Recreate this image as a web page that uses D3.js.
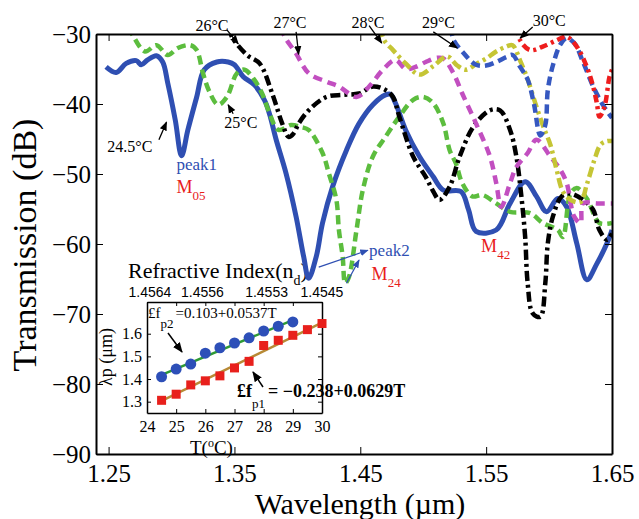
<!DOCTYPE html>
<html>
<head>
<meta charset="utf-8">
<script src="https://cdn.jsdelivr.net/npm/d3@7"></script>
<style>
body { margin: 0; background: #fff; }
svg { display: block; }
text { font-family: "Liberation Serif", "Times New Roman", serif; }
</style>
</head>
<body>
<svg id="chart" width="639" height="519"></svg>
<script>
// transmission spectra, [wavelength (um), dB]
const t245 = [[1.248,-34.7],[1.256,-35.5],[1.264,-34.2],[1.272,-33.8],[1.276,-34.4],[1.281,-33.7],[1.288,-33.1],[1.293,-34.0],[1.297,-37.0],[1.303,-42.3],[1.308,-47.4],[1.313,-43.7],[1.320,-39.0],[1.326,-35.1],[1.336,-34.0],[1.345,-34.0],[1.350,-34.4],[1.357,-36.1],[1.366,-37.3],[1.374,-39.5],[1.378,-41.5],[1.383,-45.0],[1.391,-49.9],[1.399,-56.1],[1.405,-61.8],[1.409,-64.9],[1.415,-61.8],[1.420,-57.0],[1.428,-51.8],[1.439,-46.6],[1.449,-42.8],[1.460,-40.1],[1.470,-38.7],[1.474,-38.6],[1.478,-39.9],[1.486,-43.7],[1.497,-47.5],[1.508,-50.4],[1.516,-52.3],[1.530,-52.5],[1.536,-55.1],[1.542,-58.2],[1.558,-58.0],[1.569,-54.2],[1.581,-51.1],[1.590,-53.2],[1.598,-55.4],[1.607,-53.5],[1.614,-54.7],[1.622,-59.9],[1.630,-65.1],[1.638,-62.8],[1.646,-59.9],[1.650,-58.0]];
const t25 = [[1.266,-29.0],[1.269,-30.1],[1.279,-32.5],[1.288,-31.6],[1.297,-33.0],[1.305,-32.0],[1.315,-31.6],[1.320,-32.3],[1.325,-35.6],[1.330,-38.2],[1.337,-40.1],[1.344,-39.0],[1.352,-35.6],[1.358,-35.1],[1.366,-36.6],[1.372,-38.5],[1.377,-40.9],[1.385,-43.7],[1.395,-43.0],[1.403,-43.3],[1.409,-43.7],[1.420,-47.0],[1.425,-49.9],[1.431,-53.7],[1.433,-58.0],[1.436,-61.8],[1.438,-65.6],[1.441,-64.7],[1.447,-58.0],[1.452,-52.3],[1.460,-47.5],[1.470,-44.7],[1.481,-41.8],[1.492,-39.4],[1.500,-39.0],[1.508,-39.9],[1.516,-42.8],[1.521,-46.6],[1.526,-48.5],[1.531,-51.3],[1.539,-53.2],[1.547,-53.0],[1.558,-54.2],[1.569,-55.4],[1.585,-55.6],[1.595,-57.0],[1.607,-58.0],[1.611,-59.0],[1.617,-52.8],[1.622,-52.0],[1.630,-53.5],[1.640,-57.0],[1.650,-57.0]];
const t26 = [[1.346,-29.0],[1.348,-30.4],[1.360,-33.0],[1.370,-34.2],[1.380,-38.5],[1.388,-42.8],[1.393,-44.7],[1.397,-44.2],[1.401,-42.8],[1.409,-40.9],[1.423,-39.0],[1.436,-38.7],[1.449,-38.5],[1.460,-37.5],[1.470,-38.0],[1.476,-39.0],[1.481,-41.8],[1.492,-47.5],[1.502,-50.4],[1.508,-52.5],[1.513,-53.7],[1.521,-51.8],[1.529,-47.5],[1.540,-43.2],[1.553,-40.9],[1.561,-40.9],[1.569,-43.7],[1.574,-47.5],[1.578,-53.2],[1.581,-59.0],[1.583,-65.6],[1.587,-69.9],[1.593,-70.4],[1.597,-65.6],[1.599,-59.9],[1.603,-56.1],[1.610,-53.2],[1.617,-52.8],[1.627,-53.7],[1.635,-55.1],[1.640,-58.0],[1.646,-59.4],[1.650,-58.5]];
const t27 = [[1.387,-29.0],[1.390,-30.4],[1.399,-32.8],[1.409,-35.6],[1.423,-36.8],[1.433,-37.5],[1.447,-39.0],[1.457,-37.5],[1.468,-35.1],[1.478,-33.7],[1.486,-35.0],[1.494,-34.7],[1.502,-34.0],[1.511,-33.4],[1.516,-33.5],[1.524,-35.6],[1.531,-38.5],[1.542,-42.8],[1.553,-47.5],[1.558,-51.3],[1.562,-54.7],[1.569,-51.3],[1.574,-49.0],[1.583,-47.0],[1.590,-45.1],[1.601,-47.5],[1.609,-49.4],[1.614,-51.3],[1.620,-56.1],[1.625,-57.0],[1.627,-54.2],[1.638,-54.2],[1.650,-54.2]];
const t28 = [[1.466,-29.0],[1.469,-30.9],[1.476,-32.3],[1.486,-34.2],[1.497,-35.8],[1.508,-34.6],[1.519,-33.2],[1.527,-34.5],[1.534,-35.1],[1.542,-34.3],[1.550,-33.5],[1.558,-32.5],[1.566,-31.8],[1.571,-31.6],[1.577,-33.8],[1.583,-36.5],[1.590,-40.4],[1.596,-43.5],[1.601,-45.8],[1.606,-49.4],[1.611,-52.5],[1.618,-53.8],[1.625,-54.0],[1.630,-51.5],[1.636,-48.0],[1.641,-45.8],[1.646,-45.3],[1.650,-45.3]];
const t29 = [[1.522,-29.0],[1.524,-30.8],[1.531,-32.5],[1.542,-34.4],[1.550,-34.5],[1.558,-34.0],[1.566,-33.3],[1.571,-33.0],[1.577,-34.7],[1.583,-36.5],[1.588,-40.0],[1.593,-44.5],[1.597,-43.0],[1.599,-38.0],[1.603,-34.5],[1.609,-31.5],[1.614,-30.6],[1.620,-31.3],[1.627,-34.0],[1.635,-37.5],[1.643,-40.2],[1.650,-42.0]];
const t30 = [[1.575,-29.0],[1.577,-30.9],[1.585,-32.3],[1.595,-31.8],[1.606,-30.9],[1.614,-30.4],[1.622,-31.8],[1.630,-34.7],[1.635,-37.5],[1.638,-39.9],[1.640,-41.8],[1.644,-40.4],[1.648,-36.1],[1.650,-35.1]];

const xTicks = [1.25, 1.35, 1.45, 1.55, 1.65];
const yTicks = [-90, -80, -70, -60, -50, -40, -30];

// inset: resonance wavelength vs temperature
const tempP2 = [24.5, 25, 25.5, 26, 26.5, 27, 27.5, 28, 28.5, 29];
const peakP2 = [1.410, 1.444, 1.466, 1.514, 1.538, 1.559, 1.582, 1.612, 1.633, 1.652];
const tempP1 = [24.5, 25, 25.5, 26, 26.5, 27, 27.5, 28, 28.5, 29, 29.5, 30];
const peakP1 = [1.306, 1.333, 1.374, 1.392, 1.414, 1.449, 1.478, 1.548, 1.571, 1.593, 1.618, 1.645];
const fitP1 = [-0.238, 0.0629];
const fitP2 = [0.103, 0.0537];
const insetXTicks = [24, 25, 26, 27, 28, 29, 30];
const insetYTicks = [1.3, 1.4, 1.5, 1.6];
const indexLabels = ["1.4564", "1.4556", "1.4553", "1.4545"];
const indexAtT = [24.1, 25.9, 28.1, 30.0];

const spectra = [t245, t25, t26, t27, t28, t29, t30];
const lineColors = ["#2f4fb2", "#5cbd3e", "#000000", "#c24fc0", "#c5c535", "#3658c0", "#ee1d1d"];
const lineDash = [null, "9,5", "10,4,3,4", "9,6", "10,4,3,4", "9,5", "8,4,3,4"];
const lineWidth = [5, 4.5, 4.5, 4.5, 4.5, 4.5, 4.5];

const svg = d3.select("#chart");
const x = d3.scaleLinear().domain([1.24, 1.65]).range([96, 612]);
const y = d3.scaleLinear().domain([-90, -30]).range([454, 34]);

const defs = svg.append("defs");
defs.append("clipPath").attr("id", "plotClip")
    .append("rect").attr("x", 96).attr("y", 34).attr("width", 516).attr("height", 420);
function marker(id, color) {
    defs.append("marker").attr("id", id)
        .attr("viewBox", "0 0 10 10").attr("refX", 9).attr("refY", 5)
        .attr("markerWidth", 7).attr("markerHeight", 7).attr("orient", "auto")
        .append("path").attr("d", "M0,1 L10,5 L0,9 z").attr("fill", color);
}
marker("arrBlack", "#000");
marker("arrBlue", "#2f4fb2");

// inset goes first, curves may run over its title
const xi = d3.scaleLinear().domain([24, 30]).range([147, 322]);
const yi = d3.scaleLinear().domain([1.25, 1.74]).range([413, 302]);
const inset = svg.append("g");
inset.append("rect").attr("x", 147).attr("y", 302).attr("width", 175).attr("height", 111)
    .attr("fill", "#fff");

inset.append("g").attr("transform", "translate(0,413)")
    .call(d3.axisBottom(xi).tickValues(insetXTicks).tickSize(-4).tickSizeOuter(0).tickPadding(8).tickFormat(d3.format("d")));
inset.append("g").attr("transform", "translate(147,0)")
    .call(d3.axisLeft(yi).tickValues(insetYTicks).tickSize(-4).tickSizeOuter(0).tickPadding(5).tickFormat(d3.format(".1f")));
inset.append("g").attr("transform", "translate(0,302)")
    .call(d3.axisTop(xi).tickValues(insetXTicks).tickSize(-4).tickSizeOuter(0).tickFormat(""));
inset.append("g").attr("transform", "translate(322,0)")
    .call(d3.axisRight(yi).tickValues(insetYTicks).tickSize(-4).tickSizeOuter(0).tickFormat(""));
inset.selectAll(".domain").attr("stroke", "#000").attr("stroke-width", 1.5);
inset.selectAll(".tick line").attr("stroke", "#000");
inset.selectAll(".tick text").attr("font-size", 16).attr("fill", "#000")
    .style("font-family", "'Liberation Serif', serif");

inset.selectAll(".nlab").data(indexLabels).enter().append("text")
    .attr("x", (d, i) => xi(indexAtT[i])).attr("y", 297)
    .attr("text-anchor", "middle").attr("font-size", 14)
    .style("font-family", "'Liberation Sans', Arial, sans-serif")
    .text(d => d);

const rTitle = inset.append("text").attr("x", 128).attr("y", 278).attr("font-size", 22);
rTitle.append("tspan").text("Refractive Index(n");
rTitle.append("tspan").attr("dy", 7).attr("font-size", 14).text("d");
rTitle.append("tspan").attr("dy", -7).text(")");

inset.append("text").attr("transform", "translate(106,357) rotate(-90)")
    .attr("text-anchor", "middle").attr("dominant-baseline", "central")
    .attr("font-size", 18).text("λp (μm)");
const tLab = inset.append("text").attr("x", 190).attr("y", 454).attr("font-size", 19);
tLab.append("tspan").text("T(");
tLab.append("tspan").attr("dy", -7).attr("font-size", 12).text("o");
tLab.append("tspan").attr("dy", 7).text("C)");

const fitLine = d3.line().x(d => xi(d[0])).y(d => yi(d[1]));
inset.append("path")
    .attr("d", fitLine([tempP1[0], tempP1[tempP1.length - 1]].map(t => [t, fitP1[0] + fitP1[1] * t])))
    .attr("stroke", "#b88a36").attr("stroke-width", 2.5).attr("fill", "none");
inset.append("path")
    .attr("d", fitLine([tempP2[0], tempP2[tempP2.length - 1]].map(t => [t, fitP2[0] + fitP2[1] * t])))
    .attr("stroke", "#2e9a35").attr("stroke-width", 2.5).attr("fill", "none");
inset.selectAll(".sq").data(tempP1).enter().append("rect")
    .attr("x", (d) => xi(d) - 4.5).attr("y", (d, i) => yi(peakP1[i]) - 4.5)
    .attr("width", 9).attr("height", 9).attr("fill", "#e8201c");
inset.selectAll(".ci").data(tempP2).enter().append("circle")
    .attr("cx", d => xi(d)).attr("cy", (d, i) => yi(peakP2[i])).attr("r", 5.5)
    .attr("fill", "#2d4fb8");

const eq2 = inset.append("text").attr("x", 148).attr("y", 318).attr("font-size", 15);
eq2.append("tspan").text("£f");
eq2.append("tspan").attr("dy", 10).attr("font-size", 13).text("p2");
eq2.append("tspan").attr("dy", -10).attr("dx", 2).text("=0.103+0.0537T");
inset.append("line").attr("x1", 168).attr("y1", 333).attr("x2", 182).attr("y2", 352)
    .attr("stroke", "#000").attr("stroke-width", 1.5).attr("marker-end", "url(#arrBlack)");

const eq1 = svg.append("text").attr("x", 237).attr("y", 397).attr("font-size", 18).attr("font-weight", "bold");
eq1.append("tspan").text("£f");
eq1.append("tspan").attr("dy", 11).attr("font-size", 13).attr("font-weight", "normal").text("p1");
eq1.append("tspan").attr("dy", -11).attr("dx", 3).text("= −0.238+0.0629T");
svg.append("line").attr("x1", 263).attr("y1", 387).attr("x2", 253).attr("y2", 372)
    .attr("stroke", "#000").attr("stroke-width", 1.5).attr("marker-end", "url(#arrBlack)");

// spectra
const line = d3.line().x(d => x(d[0])).y(d => y(d[1])).curve(d3.curveCatmullRom.alpha(0.5));
svg.append("g").attr("clip-path", "url(#plotClip)")
    .selectAll("path").data(spectra).enter().append("path")
    .attr("d", d => line(d))
    .attr("fill", "none")
    .attr("stroke", (d, i) => lineColors[i])
    .attr("stroke-width", (d, i) => lineWidth[i])
    .attr("stroke-dasharray", (d, i) => lineDash[i])
    .attr("stroke-linejoin", "round");

// main axes
svg.append("g").attr("transform", "translate(0,454)")
    .call(d3.axisBottom(x).tickValues(xTicks).tickSize(-7).tickSizeOuter(0).tickPadding(10).tickFormat(d3.format(".2f")));
svg.append("g").attr("transform", "translate(96,0)")
    .call(d3.axisLeft(y).tickValues(yTicks).tickSize(-7).tickSizeOuter(0).tickPadding(5));
svg.append("g").attr("transform", "translate(0,34)")
    .call(d3.axisTop(x).tickValues(xTicks).tickSize(-7).tickSizeOuter(0).tickFormat(""));
svg.append("g").attr("transform", "translate(612,0)")
    .call(d3.axisRight(y).tickValues(yTicks).tickSize(-7).tickSizeOuter(0).tickFormat(""));
svg.selectAll(".domain").filter(function () { return !inset.node().contains(this); })
    .attr("stroke", "#000").attr("stroke-width", 2);
svg.selectAll(".tick text").filter(function () { return !inset.node().contains(this); })
    .attr("font-size", 25).attr("fill", "#000")
    .style("font-family", "'Liberation Serif', serif");

svg.append("text").attr("transform", "translate(24,245) rotate(-90)")
    .attr("text-anchor", "middle").attr("dominant-baseline", "central")
    .attr("font-size", 34).text("Transmission (dB)");
svg.append("text").attr("x", 360).attr("y", 514).attr("text-anchor", "middle")
    .attr("font-size", 30).text("Wavelength (µm)");

// temperature labels and arrows
const tempNotes = [
    ["24.5°C", 1.249, -46.9, [1.290, -45.1], [1.296, -42.6]],
    ["25°C", 1.342, -43.4, [1.349, -41.4], [1.345, -40.1]],
    ["26°C", 1.319, -29.6, [1.344, -29.4], [1.353, -31.4]],
    ["27°C", 1.381, -29.1, [1.399, -29.7], [1.401, -32.9]],
    ["28°C", 1.443, -29.2, [1.457, -28.8], [1.467, -31.3]],
    ["29°C", 1.499, -29.2, [1.508, -29.7], [1.527, -32.0]],
    ["30°C", 1.587, -28.8, [1.587, -29.0], [1.577, -30.6]]
];
tempNotes.forEach(n => {
    svg.append("text").attr("x", x(n[1])).attr("y", y(n[2])).attr("font-size", 16).text(n[0]);
    svg.append("line").attr("x1", x(n[3][0])).attr("y1", y(n[3][1]))
        .attr("x2", x(n[4][0])).attr("y2", y(n[4][1]))
        .attr("stroke", "#000").attr("stroke-width", 1.3).attr("marker-end", "url(#arrBlack)");
});

svg.append("text").attr("x", x(1.304)).attr("y", y(-49.4)).attr("font-size", 17)
    .attr("fill", "#2f4fb2").text("peak1");
svg.append("text").attr("x", x(1.457)).attr("y", y(-61.7)).attr("font-size", 17)
    .attr("fill", "#2f4fb2").text("peak2");
svg.append("line").attr("x1", x(1.417)).attr("y1", y(-63.3)).attr("x2", x(1.456)).attr("y2", y(-60.9))
    .attr("stroke", "#2f4fb2").attr("stroke-width", 1.2).attr("marker-end", "url(#arrBlue)");
svg.append("line").attr("x1", x(1.439)).attr("y1", y(-65.6)).attr("x2", x(1.449)).attr("y2", y(-62.3))
    .attr("stroke", "#2f4fb2").attr("stroke-width", 1.2).attr("marker-end", "url(#arrBlue)");

function mode(sub, lx, ly) {
    const t = svg.append("text").attr("x", x(lx)).attr("y", y(ly)).attr("font-size", 18).attr("fill", "#e8201c");
    t.append("tspan").text("M");
    t.append("tspan").attr("dy", 7).attr("font-size", 13).text(sub);
}
mode("05", 1.304, -52.7);
mode("24", 1.459, -65.2);
mode("42", 1.546, -61.1);
</script>
</body>
</html>
